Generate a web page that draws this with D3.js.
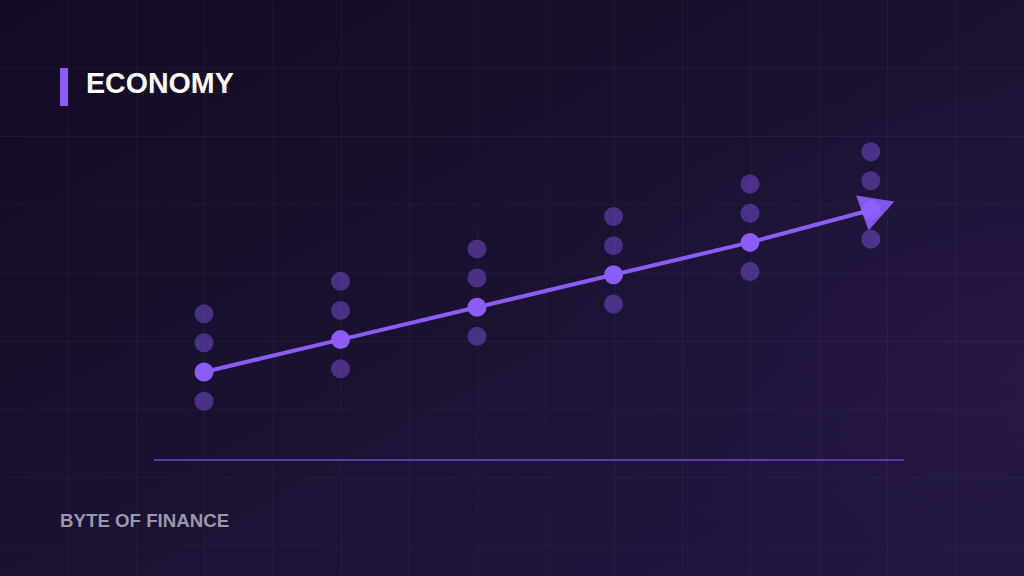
<!DOCTYPE html>
<html>
<head>
<meta charset="utf-8">
<script src="https://cdn.jsdelivr.net/npm/d3@7"></script>
<style>
  html, body { margin: 0; padding: 0; background: #170f2a; }
  svg { display: block; }
</style>
</head>
<body>
<svg id="chart" width="1024" height="576"></svg>
<script>
// ---- data ----
const title = "ECONOMY";
const footer = "BYTE OF FINANCE";
const periods = [1, 2, 3, 4, 5, 5.885];
const trend   = [100, 110, 120, 130, 140, 150];
const upper2  = [118, 128, 138, 148, 158, 168];
const upper1  = [109, 119, 129, 139, 149, 159];
const lower1  = [91, 101, 111, 121, 131, 141];

const W = 1024, H = 576;
const svg = d3.select("#chart");
const defs = svg.append("defs");

// background
const bg = defs.append("linearGradient").attr("id", "bg")
  .attr("x1", "0").attr("y1", "0").attr("x2", "1").attr("y2", "1");
bg.append("stop").attr("offset", "0%").attr("stop-color", "#130b23");
bg.append("stop").attr("offset", "55%").attr("stop-color", "#1b1234");
bg.append("stop").attr("offset", "100%").attr("stop-color", "#231742");
svg.append("rect").attr("width", W).attr("height", H).attr("fill", "url(#bg)");
const glow = defs.append("radialGradient").attr("id", "glow")
  .attr("cx", "0.98").attr("cy", "0.6").attr("r", "0.45");
glow.append("stop").attr("offset", "0%").attr("stop-color", "#3a1a55").attr("stop-opacity", 0.28);
glow.append("stop").attr("offset", "100%").attr("stop-color", "#3a1a55").attr("stop-opacity", 0);
svg.append("rect").attr("width", W).attr("height", H).attr("fill", "url(#glow)");

// grid
const step = W / 15;
const grid = svg.append("g").attr("stroke", "#ffffff").attr("stroke-opacity", 0.045).attr("stroke-width", 1);
d3.range(1, 15).forEach(i => grid.append("line")
  .attr("x1", i * step).attr("x2", i * step).attr("y1", 0).attr("y2", H));
d3.range(1, 9).forEach(i => grid.append("line")
  .attr("y1", i * step).attr("y2", i * step).attr("x1", 0).attr("x2", W));

// scales
const x = d3.scaleLinear().domain([1, 5]).range([204, 750]);
const y = d3.scaleLinear().domain([100, 150]).range([372, 210]);
const purple = "#8b5cf6";

// baseline
svg.append("line").attr("x1", 154).attr("x2", 904).attr("y1", 460).attr("y2", 460)
  .attr("stroke", "#6a44c6").attr("stroke-opacity", 0.8).attr("stroke-width", 2);

// scenario dots
const g = svg.append("g");
[upper2, upper1, lower1].forEach(arr => {
  g.selectAll(null).data(arr).enter().append("circle")
    .attr("cx", (d, i) => x(periods[i])).attr("cy", d => y(d))
    .attr("r", 9.5).attr("fill", purple).attr("fill-opacity", 0.42);
});

// trend line
const line = d3.line().x((d, i) => x(periods[i])).y(d => y(d));
g.append("path").datum(trend).attr("d", line)
  .attr("fill", "none").attr("stroke", purple).attr("stroke-width", 4);

// main dots (last hidden under arrowhead)
g.selectAll(null).data(trend).enter().append("circle")
  .attr("cx", (d, i) => x(periods[i])).attr("cy", d => y(d))
  .attr("r", 9.5).attr("fill", (d, i) => i === trend.length - 1 ? "#a78bfa" : purple);

// arrowhead
const n = trend.length;
const ex = x(periods[n - 1]), ey = y(trend[n - 1]);
const px = x(periods[n - 2]), py = y(trend[n - 2]);
let ang = Math.atan2(ey - py, ex - px) - 0.08;
const dx = Math.cos(ang), dy = Math.sin(ang);
const tip = [ex + 25 * dx, ey + 25 * dy];
const bc = [ex - 9 * dx, ey - 9 * dy];
const hw = 18.5;
const p1 = [bc[0] - dy * hw, bc[1] + dx * hw];
const p2 = [bc[0] + dy * hw, bc[1] - dx * hw];
g.append("path").attr("d", `M${tip}L${p1}L${p2}Z`)
  .attr("fill", purple).attr("fill-opacity", 0.92);

// title
svg.append("rect").attr("x", 60).attr("y", 68).attr("width", 8).attr("height", 38).attr("fill", purple);
svg.append("text").attr("x", 86).attr("y", 93.3).text(title)
  .attr("font-family", "Liberation Sans, Arial, sans-serif").attr("font-weight", "bold")
  .attr("font-size", 28.6).attr("fill", "#ffffff");

// footer
svg.append("text").attr("x", 60).attr("y", 526.7).text(footer)
  .attr("font-family", "Liberation Sans, Arial, sans-serif").attr("font-weight", "bold")
  .attr("font-size", 18.7).attr("fill", "#9d97ab");
</script>
</body>
</html>
